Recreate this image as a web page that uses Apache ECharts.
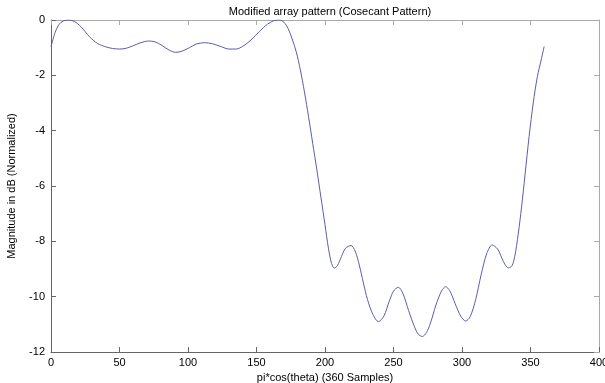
<!DOCTYPE html>
<html>
<head>
<meta charset="utf-8">
<script src="https://cdn.jsdelivr.net/npm/echarts@6/dist/echarts.min.js"></script>
<style>
  html, body { margin: 0; padding: 0; background: #ffffff; }
  #chart { width: 605px; height: 383px; }
</style>
</head>
<body>
<div id="chart"></div>
<script>
// Sample positions (pi*cos(theta) index) and normalized magnitude in dB
const samples = [
  0, 3, 6, 9, 13, 17, 22, 28, 34, 40, 45, 50, 55, 60, 65, 71, 76, 81, 86, 91,
  96, 101, 106, 112, 118, 124, 130, 135, 140, 146, 152, 158, 163, 167, 170, 173,
  176, 179, 182, 185, 188, 191, 194, 197, 200, 202.5, 204.8, 206.8, 209, 212, 215,
  219, 222, 225, 228, 231, 235, 239, 243, 247, 250, 253.5, 257, 261, 265, 268,
  271, 274, 277, 281, 285, 288, 291, 295, 299, 302.7, 306, 310, 314, 318, 322,
  326, 329, 331.5, 334, 336.5, 338.5, 341, 343.5, 346, 349, 352, 355, 358, 360
];
const magnitudeDb = [
  -0.97, -0.45, -0.15, -0.03, 0, -0.05, -0.25, -0.6, -0.85, -0.97, -1.03, -1.05,
  -1.02, -0.93, -0.83, -0.76, -0.79, -0.92, -1.08, -1.17, -1.12, -1.0, -0.87,
  -0.82, -0.86, -0.96, -1.05, -1.05, -0.95, -0.72, -0.42, -0.15, -0.02, 0,
  -0.08, -0.3, -0.68, -1.15, -1.8, -2.6, -3.5, -4.45, -5.4, -6.4, -7.4, -8.25,
  -8.8, -8.97, -8.88, -8.55, -8.25, -8.15, -8.35, -8.85, -9.5, -10.1, -10.65,
  -10.9, -10.7, -10.15, -9.8, -9.66, -9.9, -10.5, -11.05, -11.35, -11.44,
  -11.3, -10.95, -10.3, -9.8, -9.64, -9.78, -10.25, -10.7, -10.88, -10.72,
  -10.1, -9.2, -8.45, -8.13, -8.28, -8.6, -8.85, -8.96, -8.88, -8.55, -7.75,
  -6.75, -5.6, -4.2, -3.0, -2.05, -1.4, -0.95
];
const xTicks = [0, 50, 100, 150, 200, 250, 300, 350, 400];
const yTicks = [-12, -10, -8, -6, -4, -2, 0];

const titleText = 'Modified array pattern (Cosecant Pattern)';
const xName = 'pi*cos(theta) (360 Samples)';
const yName = 'Magnitude in dB (Normalized)';

const font = 'Liberation Sans, Arial, sans-serif';
const chart = echarts.init(document.getElementById('chart'), null, { renderer: 'canvas' });

const points = samples.map((x, i) => [x, magnitudeDb[i]]);

function boxAxis(pos, color, showLabel, extra) {
  return Object.assign({
    type: 'value',
    position: pos,
    axisLine: { show: true, onZero: false, lineStyle: { color: color, width: 1 } },
    axisTick: { show: true, inside: true, length: 5, lineStyle: { color: color } },
    axisLabel: { show: showLabel, color: '#000', fontFamily: font, fontSize: 11 },
    splitLine: { show: false }
  }, extra);
}

chart.setOption({
  animation: false,
  backgroundColor: '#ffffff',
  title: {
    text: titleText,
    left: 325, top: 1, textAlign: 'center',
    textStyle: { fontFamily: font, fontSize: 11, fontWeight: 'normal', color: '#000' }
  },
  grid: { left: 51, right: 6, top: 20, bottom: 31, containLabel: false, outerBoundsMode: 'none' },
  xAxis: [
    boxAxis('bottom', '#666', true, {
      min: xTicks[0], max: xTicks[xTicks.length - 1], interval: 50,
      name: xName, nameLocation: 'middle', nameGap: 14,
      nameTextStyle: { fontFamily: font, fontSize: 11, color: '#000' },
      axisLabel: { show: true, color: '#000', fontFamily: font, fontSize: 11, margin: 5 }
    }),
    boxAxis('top', '#aaa', false, {
      min: xTicks[0], max: xTicks[xTicks.length - 1], interval: 50
    })
  ],
  yAxis: [
    boxAxis('left', '#666', true, {
      min: yTicks[0], max: yTicks[yTicks.length - 1], interval: 2,
      name: yName, nameLocation: 'middle', nameGap: 34, nameRotate: 90,
      nameMoveOverlap: false,
      nameTextStyle: { fontFamily: font, fontSize: 11, color: '#000' },
      axisLabel: { show: true, color: '#000', fontFamily: font, fontSize: 11, margin: 6 }
    }),
    boxAxis('right', '#aaa', false, {
      min: yTicks[0], max: yTicks[yTicks.length - 1], interval: 2
    })
  ],
  series: [{
    type: 'line',
    data: points,
    smooth: 0.3,
    showSymbol: false,
    lineStyle: { color: '#5c5cac', width: 1 }
  }]
});
</script>
</body>
</html>
